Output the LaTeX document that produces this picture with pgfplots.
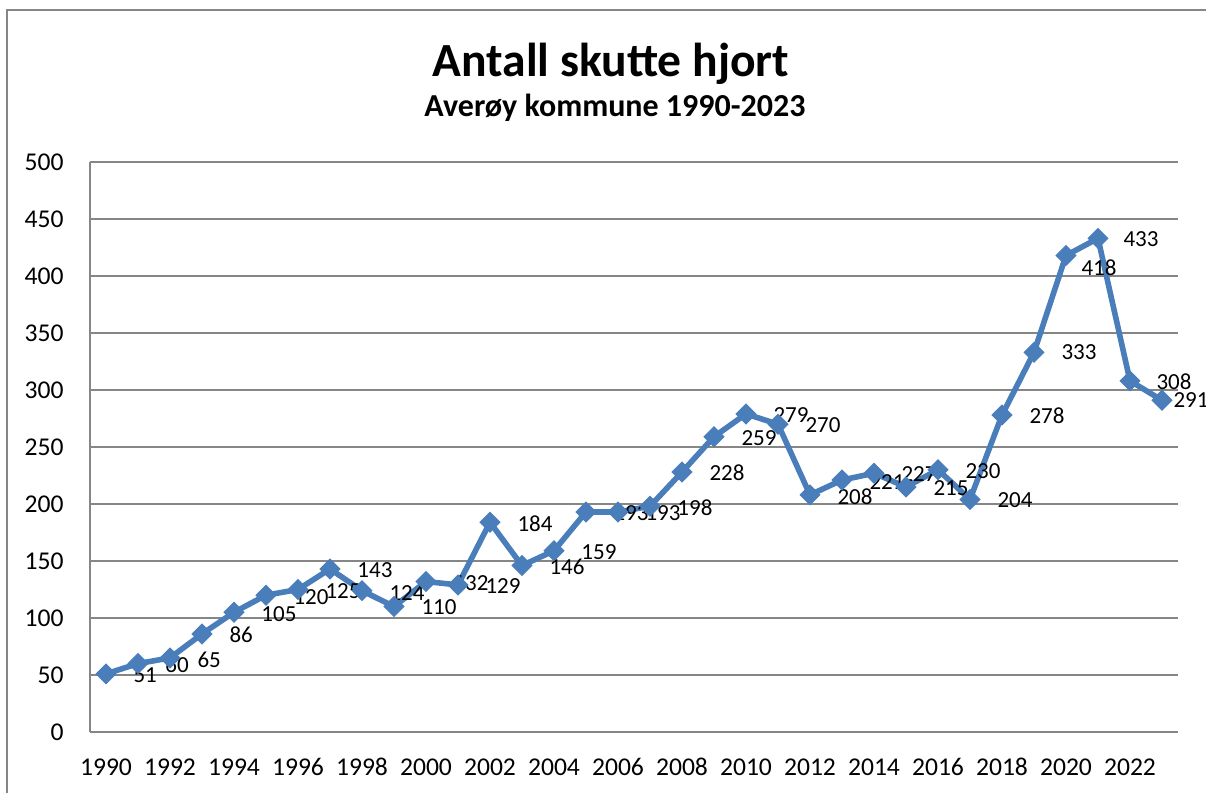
\documentclass[border=0pt]{standalone}
\usepackage{pgfplots}
\pgfplotsset{compat=1.18}
\usepackage{pgfplotstable}
\usepackage{fontspec}
\setmainfont{Carlito}
\definecolor{serie}{HTML}{4A7EBB}
\definecolor{gridgray}{HTML}{868686}

% year, value, label offset (pt)
\pgfplotstableread{
year val dx dy
1990 51 13.5 -0.8
1991 60 13.5 -0.8
1992 65 13.5 -0.8
1993 86 13.5 -0.5
1994 105 13.5 -1
1995 120 13.5 -1
1996 125 13.5 -1
1997 143 13.5 -0.5
1998 124 13.5 -1
1999 110 13.5 -0.5
2000 132 13.5 -0.8
2001 129 13.5 -0.5
2002 184 13.5 -0.5
2003 146 13.5 -0.8
2004 159 13.5 -0.8
2005 193 13.5 -0.5
2006 193 13.5 -0.5
2007 198 13.5 -0.5
2008 228 13.5 -0.5
2009 259 13.5 -0.5
2010 279 13.5 -0.5
2011 270 13.5 -0.5
2012 208 13.5 -1
2013 221 13.5 -1
2014 227 13.5 -0.5
2015 215 13.5 -0.5
2016 230 13.5 -0.5
2017 204 13.5 -0.5
2018 278 13.5 -0.5
2019 333 13.5 0
2020 418 7.5 -6
2021 433 12.5 -0.5
2022 308 13 -0.5
2023 291 5.5 0
}\hjort

\begin{document}
\begin{tikzpicture}
\clip (0,0) rectangle (603pt,396.5pt);
\draw[gridgray, line width=1pt] (3.5pt,-10pt) rectangle (620pt,391.5pt);

\node[anchor=base, font=\fontsize{23.8}{28}\selectfont\bfseries] at (305.5pt,358pt) {Antall skutte hjort};
\node[anchor=base, font=\fontsize{16}{19}\selectfont\bfseries] at (307.5pt,338pt) {Averøy kommune 1990-2023};

\begin{axis}[
    at={(45pt,30.5pt)}, anchor=south west,
    scale only axis,
    width=544pt, height=285pt,
    xmin=1989.5, xmax=2023.5,
    ymin=0, ymax=500,
    xtick={1990,1992,...,2022},
    ytick={0,50,...,500},
    axis x line*=bottom,
    axis y line*=left,
    axis line style={gridgray, line width=0.8pt},
    major tick length=0pt,
    ymajorgrids,
    grid style={gridgray, line width=0.8pt},
    /pgf/number format/assume math mode=true,
    /pgf/number format/1000 sep={},
    tick label style={font=\fontsize{12.8}{15}\selectfont, inner sep=0pt},
    yticklabel style={anchor=east, xshift=-13pt},
    xticklabel style={anchor=north, yshift=-13pt},
    clip=false,
]
\addplot[
    color=serie, line width=2.8pt,
    mark=square*, mark size=3.5pt,
    mark options={rotate=45, solid, fill=serie, draw=serie, line width=0.5pt},
    visualization depends on={\thisrow{dx} \as \dx},
    visualization depends on={\thisrow{dy} \as \dy},
    nodes near coords,
    every node near coord/.append style={
        anchor=west, inner sep=0pt, text=black,
        font=\fontsize{11.5}{13}\selectfont,
        xshift=\dx pt, yshift=\dy pt},
] table[x=year, y=val] {\hjort};
\end{axis}
\end{tikzpicture}
\end{document}
